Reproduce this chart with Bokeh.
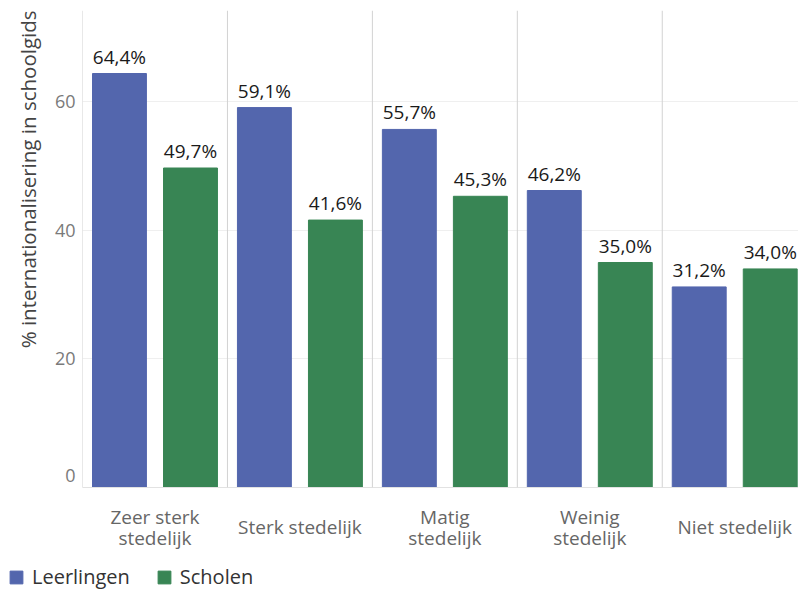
from bokeh.plotting import figure
from bokeh.models import (ColumnDataSource, Range1d, Span, Title, FixedTicker, Legend, LegendItem, LinearAxis)
from bokeh.layouts import column, row
from bokeh.core.properties import value
from bokeh.embed import file_html
from bokeh.resources import INLINE

# ---- data ----
categories = ["Zeer sterk\nstedelijk", "Sterk stedelijk", "Matig\nstedelijk", "Weinig\nstedelijk", "Niet stedelijk"]
leerlingen = [64.4, 59.1, 55.7, 46.2, 31.2]
scholen = [49.7, 41.6, 45.3, 35.0, 34.0]
series_names = ["Leerlingen", "Scholen"]
y_ticks = [0, 20, 40, 60]

BLUE = "#5366ad"
GREEN = "#388554"
FONT = "Open Sans"

n = len(categories)
idx = list(range(n))
Y_MAX = 74.2
FRAME_H = 477  # px

def fmt(v):
    return f"{v:.1f}%".replace(".", ",")

src_l = ColumnDataSource(dict(x=[i + 0.255 for i in idx], y=leerlingen, lab=[fmt(v) for v in leerlingen]))
src_s = ColumnDataSource(dict(x=[i + 0.745 for i in idx], y=scholen, lab=[fmt(v) for v in scholen]))

p = figure(width=798, height=564, output_backend="svg", toolbar_location=None,
           x_range=Range1d(0, 4.94), y_range=Range1d(0, Y_MAX),
           min_border_left=82, min_border_bottom=77, min_border_top=10, min_border_right=0)
p.outline_line_color = None
p.background_fill_color = "white"
p.border_fill_color = "white"

# grid
p.xgrid.visible = False
p.ygrid.grid_line_color = "#efefef"
p.ygrid.ticker = FixedTicker(ticks=y_ticks)

# separators
for i in idx:
    p.add_layout(Span(location=i, dimension="height", line_color="#d2d2d2", line_width=1))

# bars
p.vbar(x="x", top="y", width=0.372, source=src_l, color=BLUE)
p.vbar(x="x", top="y", width=0.372, source=src_s, color=GREEN)

for src in (src_l, src_s):
    p.text(x="x", y="y", text="lab", source=src, text_align="center", text_baseline="bottom",
           y_offset=-4, text_font=value(FONT), text_font_size="19px", text_color="#1a1a1a")

# x axes: two-line labels, then single-line labels (vertically centred)
two_line = [i for i in idx if "\n" in categories[i]]
one_line = [i for i in idx if "\n" not in categories[i]]

def style_x(ax):
    ax.axis_line_color = None
    ax.major_tick_line_color = None
    ax.minor_tick_line_color = None
    ax.major_tick_out = 0
    ax.major_label_text_font = FONT
    ax.major_label_text_font_size = "19px"
    ax.major_label_text_color = "#666666"
    ax.major_label_text_line_height = 0.81

ax1 = p.xaxis[0]
ax1.ticker = FixedTicker(ticks=[i + 0.5 for i in two_line])
ax1.major_label_overrides = {i + 0.5: categories[i] for i in two_line}
style_x(ax1)
ax1.axis_line_color = "#e2e2e2"
ax1.major_label_standoff = 16

ax2 = LinearAxis(ticker=FixedTicker(ticks=[i + 0.5 for i in one_line]),
                 major_label_overrides={i + 0.5: categories[i] for i in one_line})
style_x(ax2)
ax2.major_label_standoff = -40
p.add_layout(ax2, "below")

# y axis (bottom label kept flush inside the plot, 12px above the baseline)
flush = round(12 * Y_MAX / FRAME_H, 4)
tick_pos = [flush if t == 0 else t for t in y_ticks]
p.yaxis.ticker = FixedTicker(ticks=tick_pos)
p.yaxis.major_label_overrides = {pos: str(t) for pos, t in zip(tick_pos, y_ticks)}
p.yaxis.axis_line_color = None
p.yaxis.major_tick_line_color = None
p.yaxis.minor_tick_line_color = None
p.yaxis.major_tick_out = 0
p.yaxis.major_label_text_font = FONT
p.yaxis.major_label_text_font_size = "18px"
p.yaxis.major_label_text_color = "#7a7a7a"
p.yaxis.major_label_standoff = 7

p.add_layout(Title(text="% internationalisering in schoolgids", align="right",
                   text_font=FONT, text_font_size="20.5px", text_font_style="normal",
                   text_color="#444444", standoff=20), "left")

# legend figure
lf = figure(width=798, height=26, output_backend="svg", toolbar_location=None,
            x_range=Range1d(100, 101), y_range=Range1d(100, 101),
            min_border=0, min_border_left=0, min_border_right=0, min_border_top=0, min_border_bottom=0)
lf.axis.visible = False
lf.grid.visible = False
lf.outline_line_color = None
lf.background_fill_color = "white"
lf.border_fill_color = "white"
r1 = lf.vbar(x="x", top="y", width=0.372, source=src_l, color=BLUE)
r2 = lf.vbar(x="x", top="y", width=0.372, source=src_s, color=GREEN)
lg = Legend(items=[LegendItem(label=series_names[0], renderers=[r1]),
                   LegendItem(label=series_names[1], renderers=[r2])],
            location=(8, 0), orientation="horizontal",
            background_fill_alpha=0, border_line_color=None, padding=0, margin=0,
            spacing=26, glyph_width=16, glyph_height=16, label_standoff=8,
            label_text_font=FONT, label_text_font_size="20px", label_text_color="#333333")
lf.add_layout(lg, "center")

layout = column(p, row(lf), spacing=0)
open("out.html", "w").write(file_html(layout, INLINE))
